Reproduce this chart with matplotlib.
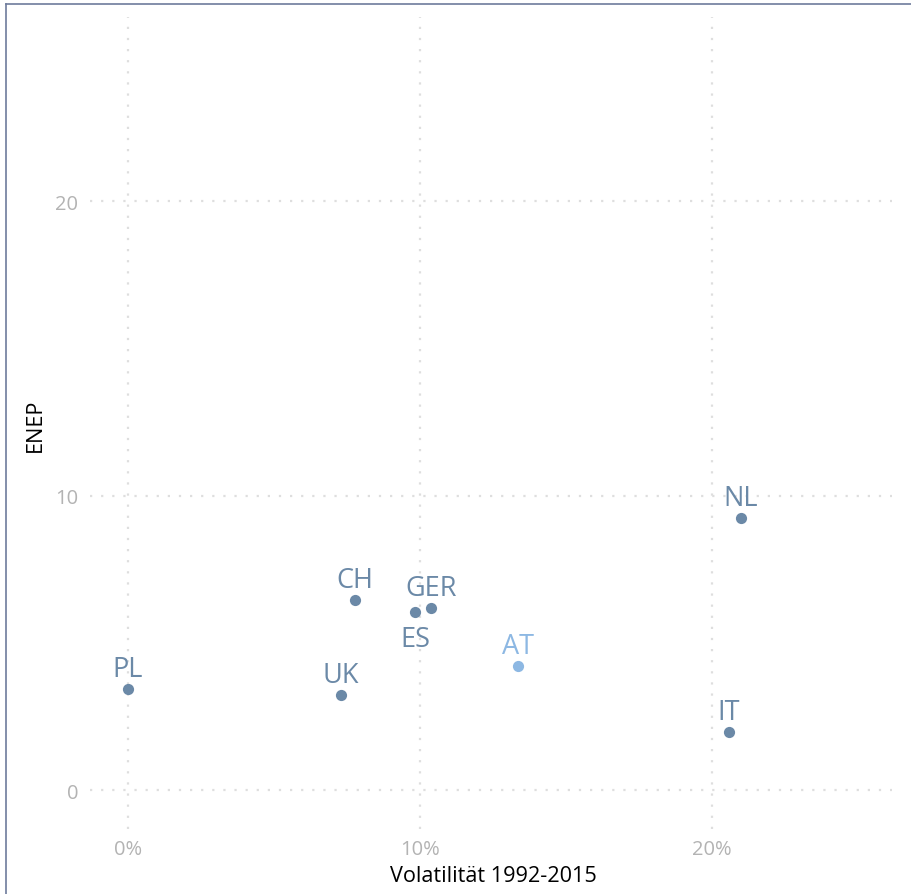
import matplotlib
matplotlib.use("Agg")
import matplotlib.pyplot as plt
from matplotlib.lines import Line2D
from matplotlib.ticker import FuncFormatter

plt.rcParams["font.family"] = ["Open Sans", "DejaVu Sans"]

countries = ["PL", "UK", "CH", "ES", "GER", "AT", "NL", "IT"]
volatility = [0.0, 7.29, 7.77, 9.83, 10.38, 13.36, 20.99, 20.58]
enep = [3.43, 3.23, 6.45, 6.04, 6.18, 4.21, 9.24, 1.97]
label_below = ["ES"]
highlight = "AT"

base_color = "#6b89a7"
highlight_color = "#8db8e3"

fig = plt.figure(figsize=(9.12, 8.95), dpi=100)
ax = fig.add_axes([90 / 912, 1 - 830 / 895, 802 / 912, 812 / 895])

for name, x, y in zip(countries, volatility, enep):
    color = highlight_color if name == highlight else base_color
    ax.scatter(x, y, s=65, color=color, zorder=3, linewidths=0)
    dy = -19 if name in label_below else 14.2
    ax.annotate(name, (x, y), xytext=(0, dy), textcoords="offset points",
                ha="center", va="center", fontsize=19.5, color=color)

ax.set_xlim(-1.30, 26.16)
ax.set_ylim(-1.32, 26.25)
ax.set_xticks([0, 10, 20])
ax.set_yticks([0, 10, 20])
ax.xaxis.set_major_formatter(FuncFormatter(lambda v, p: f"{v:.0f}%"))
ax.tick_params(length=0, labelsize=14.5, labelcolor="#b3b3b3")
ax.tick_params(axis="y", pad=8.5)
ax.tick_params(axis="x", pad=7.5)
ax.grid(True, linestyle=(0, (1, 4)), color="#dedede", linewidth=1.6)
ax.set_axisbelow(True)
for spine in ax.spines.values():
    spine.set_visible(False)

ax.set_xlabel("Volatilität 1992-2015", fontsize=15.6, color="black", va="center")
ax.set_ylabel("ENEP", fontsize=15.6, color="black", va="center")
ax.xaxis.set_label_coords((493 - 90) / 802, (830 - 877) / 812)
ax.yaxis.set_label_coords((35 - 90) / 802, (830 - 425) / 812)

# frame line on the top and left edges of the figure
fig.add_artist(Line2D([6 / 912, 6 / 912], [0, 1 - 5 / 895], transform=fig.transFigure,
                      color="#6e7c9c", linewidth=1.2))
fig.add_artist(Line2D([6 / 912, 1], [1 - 5 / 895, 1 - 5 / 895], transform=fig.transFigure,
                      color="#6e7c9c", linewidth=1.2))

fig.savefig("out.png", dpi=100)
